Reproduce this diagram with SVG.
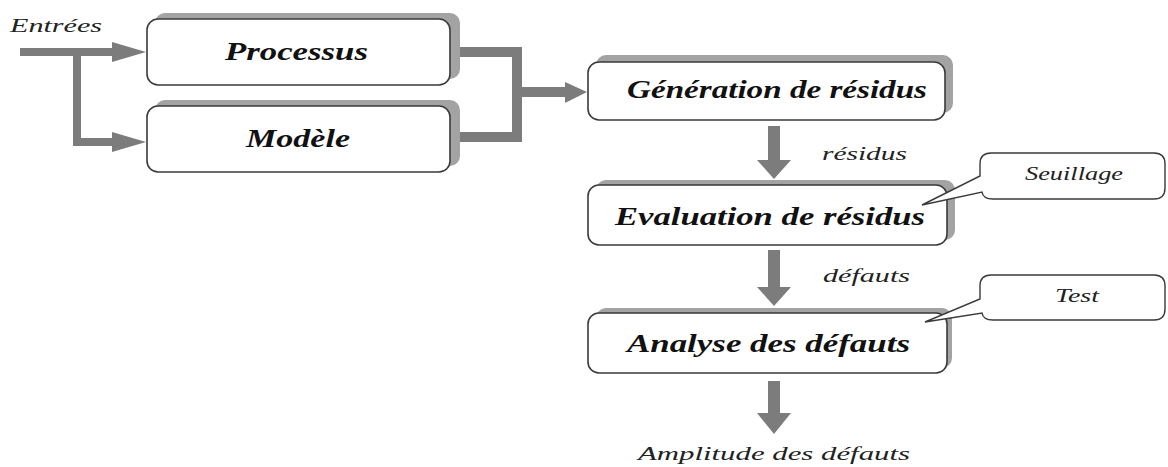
<svg xmlns="http://www.w3.org/2000/svg" width="1168" height="467" viewBox="0 0 1168 467">
  <style>
    .shadow { fill: #a3a3a3; }
    .box { fill: #ffffff; stroke: #3a3a3a; stroke-width: 1.6; }
    .title { font-family: "Liberation Serif", serif; font-style: italic; font-weight: bold; font-size: 25px; fill: #111; }
    .label { font-family: "Liberation Serif", serif; font-style: italic; font-size: 18px; fill: #222; }
    .flow { fill: none; stroke: #7c7c7c; stroke-linejoin: miter; }
    .head { fill: #7c7c7c; }
    .callout { fill: #ffffff; stroke: #3a3a3a; stroke-width: 1.4; }
  </style>
  <rect width="1168" height="467" fill="#ffffff"/>

  <!-- connectors -->
  <g id="connectors">
    <!-- inputs split to the process and its model -->
    <path class="flow" stroke-width="8" d="M20,52 H113 M77,52 V142 H113"/>
    <polygon class="head" points="112,42 146,52 112,62"/>
    <polygon class="head" points="112,132 146,142 112,152"/>
    <!-- process and model outputs merged into residual generation -->
    <path class="flow" stroke-width="10" d="M450,52 H517 V137 H450 M517,92 H566"/>
    <polygon class="head" points="565,82 587,92 565,103"/>
    <!-- vertical chain -->
    <rect class="head" x="768" y="126" width="12" height="35"/>
    <polygon class="head" points="757,160 791,160 774,179"/>
    <rect class="head" x="768" y="250" width="12" height="38"/>
    <polygon class="head" points="757,287 791,287 774,306"/>
    <rect class="head" x="768" y="381" width="12" height="33"/>
    <polygon class="head" points="757,413 791,413 774,434"/>
  </g>

  <text class="label" x="10" y="32" textLength="92" lengthAdjust="spacingAndGlyphs">Entrées</text>

  <g id="processus">
    <rect class="shadow" x="155" y="13" width="305" height="66" rx="10"/>
    <rect class="box" x="147" y="19" width="303" height="66" rx="11"/>
    <text class="title" x="225" y="60" textLength="143" lengthAdjust="spacingAndGlyphs">Processus</text>
  </g>

  <g id="modele">
    <rect class="shadow" x="155" y="100" width="305" height="66" rx="10"/>
    <rect class="box" x="147" y="106" width="303" height="66" rx="11"/>
    <text class="title" x="246" y="147" textLength="104" lengthAdjust="spacingAndGlyphs">Modèle</text>
  </g>

  <g id="generation">
    <rect class="shadow" x="596" y="55" width="357" height="58" rx="10"/>
    <rect class="box" x="588" y="62" width="357" height="58" rx="11"/>
    <text class="title" x="627" y="98" textLength="300" lengthAdjust="spacingAndGlyphs">Génération de résidus</text>
  </g>

  <text class="label" x="822" y="160" textLength="85" lengthAdjust="spacingAndGlyphs">résidus</text>

  <g id="evaluation">
    <rect class="shadow" x="596" y="180" width="359" height="60" rx="10"/>
    <rect class="box" x="588" y="185" width="359" height="60" rx="11"/>
    <text class="title" x="615" y="225" textLength="310" lengthAdjust="spacingAndGlyphs">Evaluation de résidus</text>
  </g>

  <text class="label" x="823" y="282" textLength="87" lengthAdjust="spacingAndGlyphs">défauts</text>

  <g id="analyse">
    <rect class="shadow" x="596" y="308" width="356" height="60" rx="10"/>
    <rect class="box" x="588" y="313" width="359" height="60" rx="11"/>
    <text class="title" x="627" y="352" textLength="283" lengthAdjust="spacingAndGlyphs">Analyse des défauts</text>
  </g>

  <text class="label" x="638" y="460" textLength="272" lengthAdjust="spacingAndGlyphs">Amplitude des défauts</text>

  <g id="seuillage">
    <path class="callout" d="M991,153 H1154 Q1165,153 1165,164 V188 Q1165,199 1154,199 H993 Q983,199 982,192 L922,205 L980,176 V164 Q980,153 991,153 Z"/>
    <text class="label" x="1025" y="180" textLength="98" lengthAdjust="spacingAndGlyphs">Seuillage</text>
  </g>

  <g id="test">
    <path class="callout" d="M991,275 H1154 Q1165,275 1165,286 V309 Q1165,320 1154,320 H993 Q983,320 982,313 L925,322 L980,299 V286 Q980,275 991,275 Z"/>
    <text class="label" x="1055" y="302" textLength="44" lengthAdjust="spacingAndGlyphs">Test</text>
  </g>
</svg>
